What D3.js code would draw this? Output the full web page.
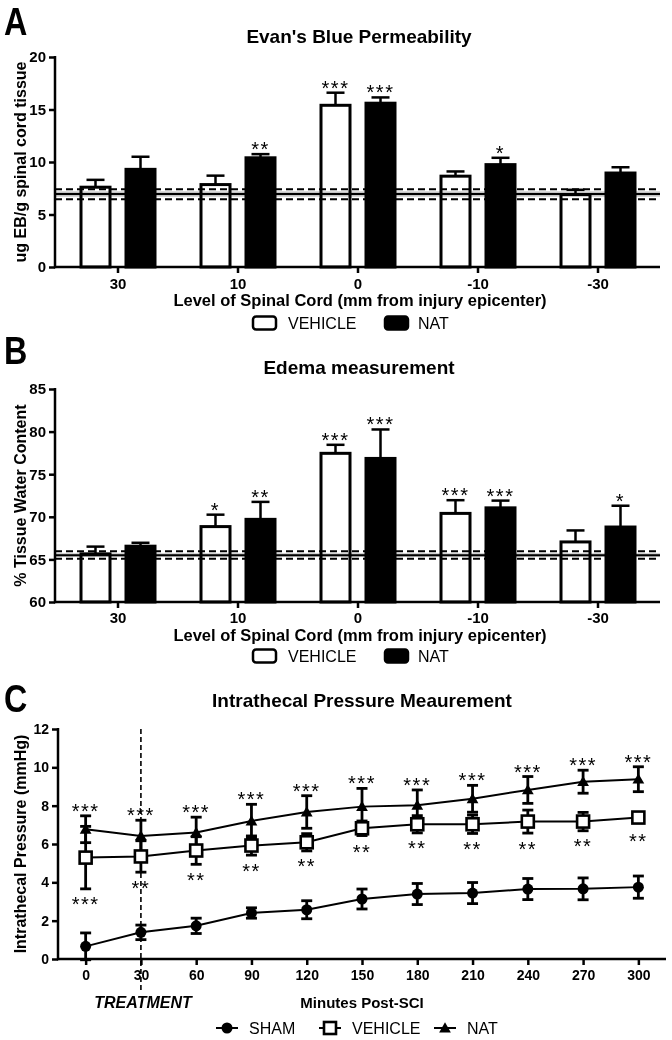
<!DOCTYPE html>
<html><head><meta charset="utf-8">
<script src="https://cdn.jsdelivr.net/npm/d3@7"></script>
<style>
body{margin:0;background:#fff}
text{font-family:'Liberation Sans',Arial,sans-serif}
</style>
</head><body>
<svg id="c" width="672" height="1040"></svg>
<script>
// ---------- Panel A: Evan's Blue ----------
const levels = ["30", "10", "0", "-10", "-30"];
const groups = ["VEHICLE", "NAT"];
const ebVehicle = [7.6, 7.85, 15.4, 8.65, 6.9];
const ebVehicleErr = [0.7, 0.85, 1.2, 0.45, 0.45];
const ebNat = [9.3, 10.4, 15.6, 9.75, 8.95];
const ebNatErr = [1.2, 0.35, 0.55, 0.65, 0.55];
const ebVehicleSig = ["", "", "***", "", ""];
const ebNatSig = ["", "**", "***", "*", ""];
const ebSham = [6.95];            // sham mean
const ebShamCI = [6.45, 7.4];     // dashed lines
const ebShamBand = [6.7, 7.2];    // grey band
const ebTicks = [0, 5, 10, 15, 20];

// ---------- Panel B: Edema ----------
const edVehicle = [65.65, 68.85, 77.45, 70.4, 67.05];
const edVehicleErr = [0.85, 1.4, 1.0, 1.55, 1.35];
const edNat = [66.55, 69.7, 76.85, 71.05, 68.8];
const edNatErr = [0.4, 2.05, 3.4, 0.85, 2.5];
const edVehicleSig = ["", "*", "***", "***", ""];
const edNatSig = ["", "**", "***", "***", "*"];
const edSham = [65.5];
const edShamCI = [65.08, 65.97];
const edShamBand = [65.3, 65.72];
const edTicks = [60, 65, 70, 75, 80, 85];

// ---------- Panel C: Intrathecal pressure ----------
const minutes = [0, 30, 60, 90, 120, 150, 180, 210, 240, 270, 300];
const shamP = [0.66, 1.39, 1.73, 2.4, 2.57, 3.13, 3.39, 3.44, 3.65, 3.66, 3.75];
const shamPErr = [0.7, 0.38, 0.4, 0.27, 0.47, 0.52, 0.55, 0.55, 0.55, 0.57, 0.58];
const vehicleP = [5.29, 5.35, 5.66, 5.92, 6.09, 6.82, 7.03, 7.03, 7.17, 7.17, 7.38];
const vehiclePErr = [1.63, 0.82, 0.72, 0.5, 0.45, 0.38, 0.45, 0.48, 0.6, 0.48, 0.2];
const natP = [6.77, 6.42, 6.6, 7.2, 7.67, 7.95, 8.02, 8.36, 8.82, 9.25, 9.38];
const natPErr = [0.7, 0.82, 0.8, 0.87, 0.85, 0.95, 0.8, 0.7, 0.7, 0.6, 0.65];
const vehiclePSig = ["***", "**", "**", "**", "**", "**", "**", "**", "**", "**", "**"];
const natPSig = ["***", "***", "***", "***", "***", "***", "***", "***", "***", "***", "***"];
const pTicks = [0, 2, 4, 6, 8, 10, 12];
const treatmentMinute = [30];

const svg = d3.select("#c");
svg.append("rect").attr("width", 672).attr("height", 1040).attr("fill", "#fff");

function styleAxis(g, size) {
  g.selectAll(".domain").remove();
  g.selectAll(".tick line").attr("stroke", "#000").attr("stroke-width", 2.5);
  g.selectAll(".tick text").attr("fill", "#000").attr("font-size", size).attr("font-weight", "bold")
    .attr("font-family", "'Liberation Sans',Arial,sans-serif");
}

function panelLetter(t, x, y) {
  svg.append("text").attr("transform", `translate(${x},${y}) scale(0.85,1)`)
    .attr("font-size", 38).attr("font-weight", "bold").text(t);
}

function barPanel(o) {
  const x0 = d3.scaleBand().domain(levels).range([58, 658]);
  const x1 = d3.scaleBand().domain(groups).range([15, 105]).paddingInner(13 / 45).paddingOuter(6.5 / 45);
  const y = d3.scaleLinear().domain(o.domain).range([o.yb, o.yt]);
  const g = svg.append("g");

  const series = [
    { key: "VEHICLE", vals: o.veh, err: o.vehErr, sig: o.vehSig, fill: "#fff" },
    { key: "NAT", vals: o.nat, err: o.natErr, sig: o.natSig, fill: "#000" }
  ];
  series.forEach(s => {
    const data = levels.map((l, i) => ({ l, v: s.vals[i], e: s.err[i], sig: s.sig[i] }));
    const cx = d => x0(d.l) + x1(s.key) + x1.bandwidth() / 2;
    g.selectAll(null).data(data).enter().append("rect")
      .attr("x", d => x0(d.l) + x1(s.key) + 1.5)
      .attr("width", x1.bandwidth() - 3)
      .attr("y", d => y(d.v))
      .attr("height", d => y(o.domain[0]) - y(d.v))
      .attr("fill", s.fill).attr("stroke", "#000").attr("stroke-width", 3);
    g.selectAll(null).data(data).enter().append("line")
      .attr("x1", cx).attr("x2", cx).attr("y1", d => y(d.v)).attr("y2", d => y(d.v + d.e))
      .attr("stroke", "#000").attr("stroke-width", 2.5);
    g.selectAll(null).data(data).enter().append("line")
      .attr("x1", d => cx(d) - 9).attr("x2", d => cx(d) + 9)
      .attr("y1", d => y(d.v + d.e)).attr("y2", d => y(d.v + d.e))
      .attr("stroke", "#000").attr("stroke-width", 2.5);
    g.selectAll(null).data(data.filter(d => d.sig)).enter().append("text")
      .attr("x", cx).attr("y", d => y(d.v + d.e) + 2)
      .attr("text-anchor", "middle").attr("font-size", 20).attr("letter-spacing", 1.5)
      .text(d => d.sig);
  });

  // sham reference
  const ref = svg.append("g").style("mix-blend-mode", "multiply");
  ref.append("rect").attr("x", 55).attr("width", 605)
    .attr("y", y(o.band[1])).attr("height", y(o.band[0]) - y(o.band[1])).attr("fill", "#c4c4c4");
  ref.selectAll(null).data(o.sham).enter().append("line")
    .attr("x1", 55).attr("x2", 660).attr("y1", d => y(d)).attr("y2", d => y(d))
    .attr("stroke", "#000").attr("stroke-width", 2);
  ref.selectAll(null).data(o.ci).enter().append("line")
    .attr("x1", 55).attr("x2", 660).attr("y1", d => y(d)).attr("y2", d => y(d))
    .attr("stroke", "#000").attr("stroke-width", 2).attr("stroke-dasharray", "7,4");

  // axes
  const ax = svg.append("g").attr("transform", `translate(55,0)`)
    .call(d3.axisLeft(y).tickValues(o.ticks).tickSize(6).tickSizeOuter(0).tickPadding(3));
  styleAxis(ax, 15);
  const bx = svg.append("g").attr("transform", `translate(0,${o.yb})`)
    .call(d3.axisBottom(x0).tickSize(6).tickSizeOuter(0).tickPadding(o.tickPad));
  styleAxis(bx, 15);
  svg.append("line").attr("x1", 55).attr("x2", 55).attr("y1", o.yt - 1).attr("y2", o.yb + 1.2)
    .attr("stroke", "#000").attr("stroke-width", 2.5);
  svg.append("line").attr("x1", 54).attr("x2", 660).attr("y1", o.yb).attr("y2", o.yb)
    .attr("stroke", "#000").attr("stroke-width", 2.5);

  // titles
  svg.append("text").attr("x", 359).attr("y", o.titleY).attr("text-anchor", "middle")
    .attr("font-size", 19).attr("font-weight", "bold").text(o.title);
  svg.append("text").attr("transform", `translate(26,${(o.yt + o.yb) / 2}) rotate(-90)`)
    .attr("text-anchor", "middle").attr("font-size", 16).attr("font-weight", "bold").text(o.ytitle);
  svg.append("text").attr("x", 360).attr("y", o.xtitleY).attr("text-anchor", "middle")
    .attr("font-size", 16.5).attr("font-weight", "bold").text("Level of Spinal Cord (mm from injury epicenter)");

  // legend
  const ly = o.legendY;
  svg.append("rect").attr("x", 253).attr("y", ly - 6.5).attr("width", 23).attr("height", 13).attr("rx", 3)
    .attr("fill", "#fff").attr("stroke", "#000").attr("stroke-width", 2.5);
  svg.append("text").attr("x", 288).attr("y", ly + 5.8).attr("font-size", 16).text(groups[0]);
  svg.append("rect").attr("x", 385).attr("y", ly - 6.5).attr("width", 23).attr("height", 13).attr("rx", 3)
    .attr("fill", "#000").attr("stroke", "#000").attr("stroke-width", 2.5);
  svg.append("text").attr("x", 418).attr("y", ly + 5.8).attr("font-size", 16).text(groups[1]);
}

panelLetter("A", 4, 35);
barPanel({
  domain: [0, 20], yb: 267, yt: 57, ticks: ebTicks, tickPad: 5,
  veh: ebVehicle, vehErr: ebVehicleErr, vehSig: ebVehicleSig,
  nat: ebNat, natErr: ebNatErr, natSig: ebNatSig,
  sham: ebSham, ci: ebShamCI, band: ebShamBand,
  title: "Evan's Blue Permeability", titleY: 43,
  ytitle: "ug EB/g spinal cord tissue", xtitleY: 306, legendY: 323
});

panelLetter("B", 4, 364);
barPanel({
  domain: [60, 85], yb: 602, yt: 389, ticks: edTicks, tickPad: 4,
  veh: edVehicle, vehErr: edVehicleErr, vehSig: edVehicleSig,
  nat: edNat, natErr: edNatErr, natSig: edNatSig,
  sham: edSham, ci: edShamCI, band: edShamBand,
  title: "Edema measurement", titleY: 374,
  ytitle: "% Tissue Water Content", xtitleY: 641, legendY: 656
});

// ---------- Panel C ----------
panelLetter("C", 4, 712);
const xC = d3.scaleLinear().domain([-15, 315]).range([58, 666]);
const yC = d3.scaleLinear().domain([0, 12]).range([959, 729]);

// treatment line
svg.selectAll(null).data(treatmentMinute).enter().append("line")
  .attr("x1", d => xC(d)).attr("x2", d => xC(d)).attr("y1", 729).attr("y2", 992)
  .attr("stroke", "#000").attr("stroke-width", 1.6).attr("stroke-dasharray", "5,3");

const cSeries = [
  { key: "SHAM", vals: shamP, err: shamPErr },
  { key: "NAT", vals: natP, err: natPErr },
  { key: "VEHICLE", vals: vehicleP, err: vehiclePErr }
];
const gC = svg.append("g");
const line = d3.line().x(d => xC(d.m)).y(d => yC(d.v));
cSeries.forEach(s => {
  const data = minutes.map((m, i) => ({ m, v: s.vals[i], e: s.err[i] }));
  gC.append("path").datum(data).attr("d", line).attr("fill", "none").attr("stroke", "#000").attr("stroke-width", 2);
});
cSeries.forEach(s => {
  const data = minutes.map((m, i) => ({ m, v: s.vals[i], e: s.err[i] }));
  gC.selectAll(null).data(data).enter().append("line")
    .attr("x1", d => xC(d.m)).attr("x2", d => xC(d.m))
    .attr("y1", d => yC(d.v - d.e)).attr("y2", d => yC(d.v + d.e))
    .attr("stroke", "#000").attr("stroke-width", 2.8);
  [-1, 1].forEach(sg => {
    gC.selectAll(null).data(data).enter().append("line")
      .attr("x1", d => xC(d.m) - 5.5).attr("x2", d => xC(d.m) + 5.5)
      .attr("y1", d => yC(d.v + sg * d.e)).attr("y2", d => yC(d.v + sg * d.e))
      .attr("stroke", "#000").attr("stroke-width", 2.8);
  });
});
// markers
const shamData = minutes.map((m, i) => ({ m, v: shamP[i] }));
const natData = minutes.map((m, i) => ({ m, v: natP[i] }));
const vehData = minutes.map((m, i) => ({ m, v: vehicleP[i] }));
gC.selectAll(null).data(shamData).enter().append("circle")
  .attr("cx", d => xC(d.m)).attr("cy", d => yC(d.v)).attr("r", 5.5).attr("fill", "#000");
const tri = d3.symbol(d3.symbolTriangle, 60);
gC.selectAll(null).data(natData).enter().append("path")
  .attr("transform", d => `translate(${xC(d.m)},${yC(d.v) + 1})`).attr("d", tri).attr("fill", "#000");
gC.selectAll(null).data(vehData).enter().append("rect")
  .attr("x", d => xC(d.m) - 6).attr("y", d => yC(d.v) - 6).attr("width", 12).attr("height", 12)
  .attr("fill", "#fff").attr("stroke", "#000").attr("stroke-width", 2.6);

// significance
gC.selectAll(null).data(minutes.map((m, i) => ({ m, v: natP[i], e: natPErr[i], s: natPSig[i] }))).enter()
  .append("text").attr("x", d => xC(d.m)).attr("y", d => yC(d.v + d.e) + 2)
  .attr("text-anchor", "middle").attr("font-size", 20).attr("letter-spacing", 1.5).text(d => d.s);
gC.selectAll(null).data(minutes.map((m, i) => ({ m, v: vehicleP[i], e: vehiclePErr[i], s: vehiclePSig[i] }))).enter()
  .append("text").attr("x", d => xC(d.m))
  .attr("y", d => Math.max(yC(d.v - d.e) + 11, yC(d.v) + 19) + 11.5)
  .attr("text-anchor", "middle").attr("font-size", 20).attr("letter-spacing", 1.5).text(d => d.s);

// axes C
const axC = svg.append("g").attr("transform", "translate(58,0)")
  .call(d3.axisLeft(yC).tickValues(pTicks).tickSize(6).tickSizeOuter(0).tickPadding(3));
styleAxis(axC, 14);
const bxC = svg.append("g").attr("transform", "translate(0,959)")
  .call(d3.axisBottom(xC).tickValues(minutes).tickSize(6).tickSizeOuter(0).tickPadding(5));
styleAxis(bxC, 14);
svg.append("line").attr("x1", 58).attr("x2", 58).attr("y1", 728).attr("y2", 960.2).attr("stroke", "#000").attr("stroke-width", 2.5);
svg.append("line").attr("x1", 57).attr("x2", 666).attr("y1", 959).attr("y2", 959).attr("stroke", "#000").attr("stroke-width", 2.5);

svg.append("text").attr("x", 362).attr("y", 707).attr("text-anchor", "middle")
  .attr("font-size", 19).attr("font-weight", "bold").text("Intrathecal Pressure Meaurement");
svg.append("text").attr("transform", `translate(26,844) rotate(-90)`)
  .attr("text-anchor", "middle").attr("font-size", 16).attr("font-weight", "bold").text("Intrathecal Pressure (mmHg)");
svg.append("text").attr("x", 143).attr("y", 1008).attr("text-anchor", "middle")
  .attr("font-size", 16).attr("font-weight", "bold").attr("font-style", "italic").text("TREATMENT");
svg.append("text").attr("x", 362).attr("y", 1008).attr("text-anchor", "middle")
  .attr("font-size", 15).attr("font-weight", "bold").text("Minutes Post-SCI");

// legend C
const lyC = 1028;
const lg = svg.append("g");
[[227, "SHAM"], [330, "VEHICLE"], [445, "NAT"]].forEach(([cx, name]) => {
  lg.append("line").attr("x1", cx - 11).attr("x2", cx + 11).attr("y1", lyC).attr("y2", lyC)
    .attr("stroke", "#000").attr("stroke-width", 2);
  if (name === "SHAM") lg.append("circle").attr("cx", cx).attr("cy", lyC).attr("r", 5.5).attr("fill", "#000");
  if (name === "VEHICLE") lg.append("rect").attr("x", cx - 6).attr("y", lyC - 6).attr("width", 12).attr("height", 12)
    .attr("fill", "#fff").attr("stroke", "#000").attr("stroke-width", 2.6);
  if (name === "NAT") lg.append("path").attr("transform", `translate(${cx},${lyC + 1})`).attr("d", tri).attr("fill", "#000");
  lg.append("text").attr("x", cx + 22).attr("y", lyC + 5.8).attr("font-size", 16).text(name);
});
</script>
</body></html>
